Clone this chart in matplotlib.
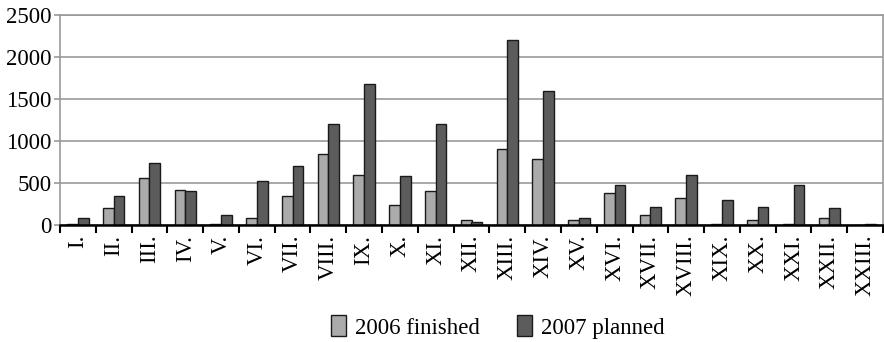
import matplotlib as mpl

mpl.use("Agg")

import matplotlib.pyplot as plt
import numpy as np

categories = [
    "I.", "II.", "III.", "IV.", "V.", "VI.", "VII.", "VIII.", "IX.", "X.",
    "XI.", "XII.", "XIII.", "XIV.", "XV.", "XVI.", "XVII.", "XVIII.", "XIX.",
    "XX.", "XXI.", "XXII.", "XXIII.",
]
finished_2006 = [10, 200, 560, 420, 10, 80, 340, 840, 600, 240, 400, 60,
                 900, 780, 60, 380, 120, 320, 10, 60, 10, 80, 0]
planned_2007 = [80, 340, 740, 400, 120, 520, 700, 1200, 1680, 580, 1200, 40,
                2200, 1600, 80, 480, 220, 600, 300, 220, 480, 200, 10]
y_ticks = [0, 500, 1000, 1500, 2000, 2500]

plt.rcParams["font.family"] = ["Liberation Serif", "DejaVu Serif"]

fig = plt.figure(figsize=(8.84, 3.42), dpi=100)
ax = fig.add_axes([60 / 884, 117 / 342, 823 / 884, 210 / 342])

x = np.arange(len(categories))
width = 0.3
ax.bar(x - width / 2, finished_2006, width, color="#ababab", edgecolor="#1a1a1a",
       linewidth=1.0, label="2006 finished", zorder=3)
ax.bar(x + width / 2, planned_2007, width, color="#5c5c5c", edgecolor="#1a1a1a",
       linewidth=1.0, label="2007 planned", zorder=3)

ax.set_xlim(-0.5, len(categories) - 0.5)
ax.set_ylim(0, 2500)
ax.set_yticks(y_ticks)
ax.yaxis.grid(True, color="#999999", linewidth=1.2, zorder=0)
ax.tick_params(axis="y", length=4, width=1.2, color="#999999", labelsize=16.5, pad=2)

ax.set_xticks(x)
ax.set_xticklabels(categories, rotation=90, fontsize=16.5)
ax.tick_params(axis="x", length=0, pad=7)
ax.set_xticks(np.arange(len(categories) + 1) - 0.5, minor=True)
ax.tick_params(axis="x", which="minor", length=6, width=1.5, color="black", direction="out")

for side in ["top", "right", "left"]:
    ax.spines[side].set_color("#999999")
    ax.spines[side].set_linewidth(1.2)
ax.spines["bottom"].set_color("black")
ax.spines["bottom"].set_linewidth(1.8)
ax.spines["bottom"].set_zorder(4)

fig.legend(loc="center", bbox_to_anchor=(498 / 884, 1 - 327 / 342), ncol=2,
           frameon=False, fontsize=16.5, handlelength=0.65, handleheight=1.0,
           handletextpad=0.4, columnspacing=1.6, borderpad=0)

fig.savefig("out.png", dpi=100)
plt.close(fig)
